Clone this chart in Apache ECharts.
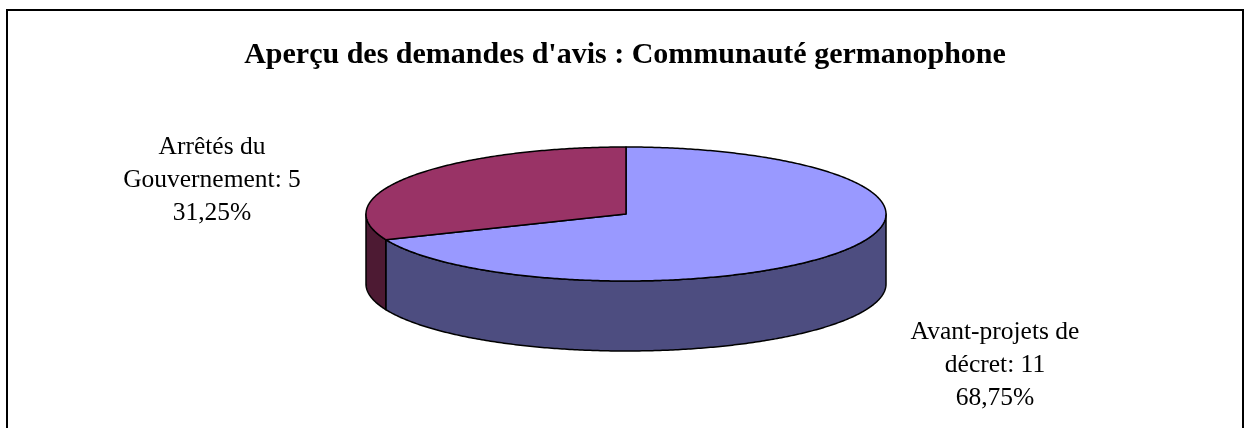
<!DOCTYPE html>
<html>
<head>
<meta charset="utf-8">
<script src="https://cdn.jsdelivr.net/npm/echarts@6/dist/echarts.min.js"></script>
<style>
  html, body { margin: 0; padding: 0; background: #ffffff; }
  #chart { width: 1250px; height: 428px; }
</style>
</head>
<body>
<div id="chart"></div>
<script>
// Chart content
const chartTitle = "Aperçu des demandes d'avis : Communauté germanophone";
const categories = ['Avant-projets de\ndécret', 'Arrêtés du\nGouvernement'];
const values = [11, 5];

// Styling
const topColors = ['#9999FF', '#993366'];
const sideColors = ['#4D4D80', '#4D1A33'];
const serif = '"Liberation Serif", "Times New Roman", serif';

// Layout of the tilted pie (ellipse centre, radii, thickness) and label anchors
const pie = { cx: 626, cy: 214, rx: 260, ry: 67, depth: 70 };
const labelAnchors = [[995, 316], [212, 131]];

const total = values.reduce((a, b) => a + b, 0);

// Slice angles: counter-clockwise radians from +x; slices run clockwise from 12 o'clock
const slices = [];
let acc = 0;
values.forEach(v => {
  const end = Math.PI / 2 - acc / total * 2 * Math.PI;
  acc += v;
  const start = Math.PI / 2 - acc / total * 2 * Math.PI;
  slices.push({ start, end });
});

function pt(theta, dy) {
  return [pie.cx + pie.rx * Math.cos(theta), pie.cy - pie.ry * Math.sin(theta) + (dy || 0)];
}

function arc(a, b, dy) {
  const n = Math.max(2, Math.ceil(Math.abs(b - a) / 0.01));
  const out = [];
  for (let i = 0; i <= n; i++) out.push(pt(a + (b - a) * i / n, dy));
  return out;
}

// Parts of [a, b] lying on the front half of the ellipse (sin < 0)
function frontParts(a, b) {
  const parts = [];
  for (let k = -3; k <= 3; k++) {
    const lo = -Math.PI + 2 * Math.PI * k, hi = 2 * Math.PI * k;
    const s = Math.max(a, lo), e = Math.min(b, hi);
    if (e > s + 1e-9) parts.push([s, e]);
  }
  return parts;
}

function pctText(v) {
  return (v / total * 100).toFixed(2).replace('.', ',') + '%';
}

function renderItem(params, api) {
  const i = params.dataIndex;
  const sl = slices[i];
  const children = [];

  frontParts(sl.start, sl.end).forEach(([s, e]) => {
    const pts = arc(s, e, 0).concat(arc(e, s, pie.depth));
    children.push({
      type: 'polygon',
      z2: 1,
      shape: { points: pts },
      style: { fill: sideColors[i], stroke: '#000000', lineWidth: 1.5, lineJoin: 'round' }
    });
  });

  children.push({
    type: 'polygon',
    z2: 10,
    shape: { points: [[pie.cx, pie.cy]].concat(arc(sl.start, sl.end, 0)) },
    style: { fill: topColors[i], stroke: '#000000', lineWidth: 1.5, lineJoin: 'round' }
  });

  children.push({
    type: 'text',
    z2: 20,
    x: labelAnchors[i][0],
    y: labelAnchors[i][1],
    style: {
      text: categories[i] + ': ' + api.value(0) + '\n' + pctText(api.value(0)),
      fill: '#000000',
      font: '25.5px ' + serif,
      lineHeight: 33,
      align: 'center',
      verticalAlign: 'top'
    }
  });

  return { type: 'group', children };
}

const chart = echarts.init(document.getElementById('chart'), null, { renderer: 'canvas' });
chart.setOption({
  animation: false,
  backgroundColor: '#ffffff',
  title: {
    text: chartTitle,
    left: 'center',
    top: 35,
    textStyle: { fontFamily: serif, fontSize: 30, fontWeight: 'bold', color: '#000000' }
  },
  graphic: [{
    type: 'rect',
    z: -1,
    shape: { x: 7, y: 10, width: 1236, height: 430 },
    style: { fill: 'none', stroke: '#000000', lineWidth: 2 }
  }],
  series: [{
    type: 'custom',
    coordinateSystem: 'none',
    renderItem: renderItem,
    data: values.map((v, i) => ({ name: categories[i], value: [v] }))
  }]
});
</script>
</body>
</html>
